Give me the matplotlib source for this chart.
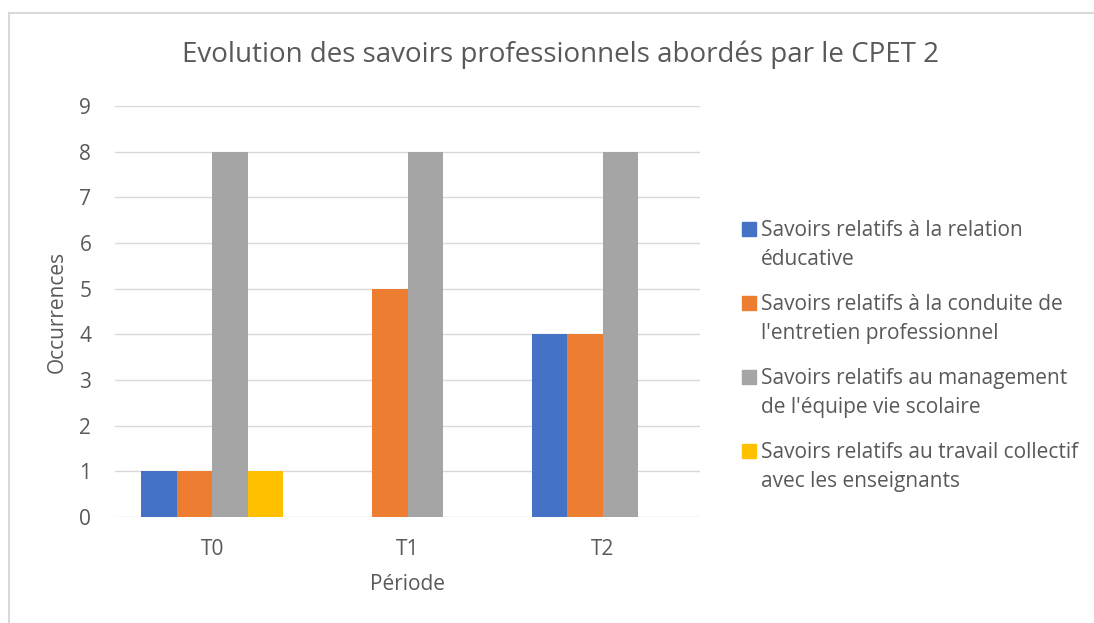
import matplotlib.pyplot as plt
import matplotlib.patches as patches
import numpy as np

plt.rcParams['font.family'] = ['Open Sans', 'DejaVu Sans']

periods = ["T0", "T1", "T2"]
series_names = [
    "Savoirs relatifs à la relation\néducative",
    "Savoirs relatifs à la conduite de\nl'entretien professionnel",
    "Savoirs relatifs au management\nde l'équipe vie scolaire",
    "Savoirs relatifs au travail collectif\navec les enseignants",
]
relation_educative = [1, 0, 4]
conduite_entretien = [1, 5, 4]
management_equipe = [8, 8, 8]
travail_collectif = [1, 0, 0]

series_values = [relation_educative, conduite_entretien, management_equipe, travail_collectif]
colors = ["#4472C4", "#ED7D31", "#A5A5A5", "#FFC000"]
text_color = "#595959"
grid_color = "#D9D9D9"


def draw_chart():
    fig = plt.figure(figsize=(10.94, 6.23), dpi=100)
    ax = fig.add_axes([0.105, 0.170, 0.535, 0.660])

    # outer frame (top and left edges only)
    fig.add_artist(plt.Line2D([9 / 1094, 1], [1 - 13 / 623, 1 - 13 / 623],
                              transform=fig.transFigure, color=grid_color, lw=1.5))
    fig.add_artist(plt.Line2D([9 / 1094, 9 / 1094], [0, 1 - 13 / 623],
                              transform=fig.transFigure, color=grid_color, lw=1.5))

    x = np.arange(len(periods))
    width = 0.182
    for i, (vals, color) in enumerate(zip(series_values, colors)):
        offset = (i - 1.5) * width
        ax.bar(x + offset, vals, width, color=color, zorder=2)

    ax.set_xlim(-0.5, len(periods) - 0.5)
    ax.set_ylim(0, 9)
    ax.set_yticks(range(0, 10))
    ax.set_xticks(x)
    ax.set_xticklabels(periods)
    ax.grid(axis='y', color=grid_color, lw=1, zorder=0)
    for s in ax.spines.values():
        s.set_visible(False)
    ax.tick_params(length=0, labelsize=15, colors=text_color)
    ax.tick_params(axis='y', pad=17)
    ax.tick_params(axis='x', pad=16)

    ax.set_ylabel("Occurrences", fontsize=15, color=text_color, labelpad=8)
    ax.set_xlabel("Période", fontsize=15, color=text_color, labelpad=10)

    fig.text(560 / 1094, 1 - 55 / 623,
             "Evolution des savoirs professionnels abordés par le CPET 2",
             ha='center', va='center', fontsize=20, color=text_color)

    # legend drawn by hand so the square sits on the first text line;
    # baseline alignment of a two-line text refers to its second line
    line_centers = [229, 303, 377, 451]
    line_step = 29
    for name, color, y in zip(series_names, colors, line_centers):
        fig.add_artist(patches.Rectangle((742 / 1094, 1 - (y + 7) / 623), 14 / 1094, 14 / 623,
                                         transform=fig.transFigure, color=color))
        fig.text(761 / 1094, 1 - (y + 7 + line_step) / 623, name, ha='left', va='baseline',
                 fontsize=15, color=text_color, linespacing=1.5)

    fig.savefig("out.png", dpi=100)


if __name__ == '__main__':
    draw_chart()
